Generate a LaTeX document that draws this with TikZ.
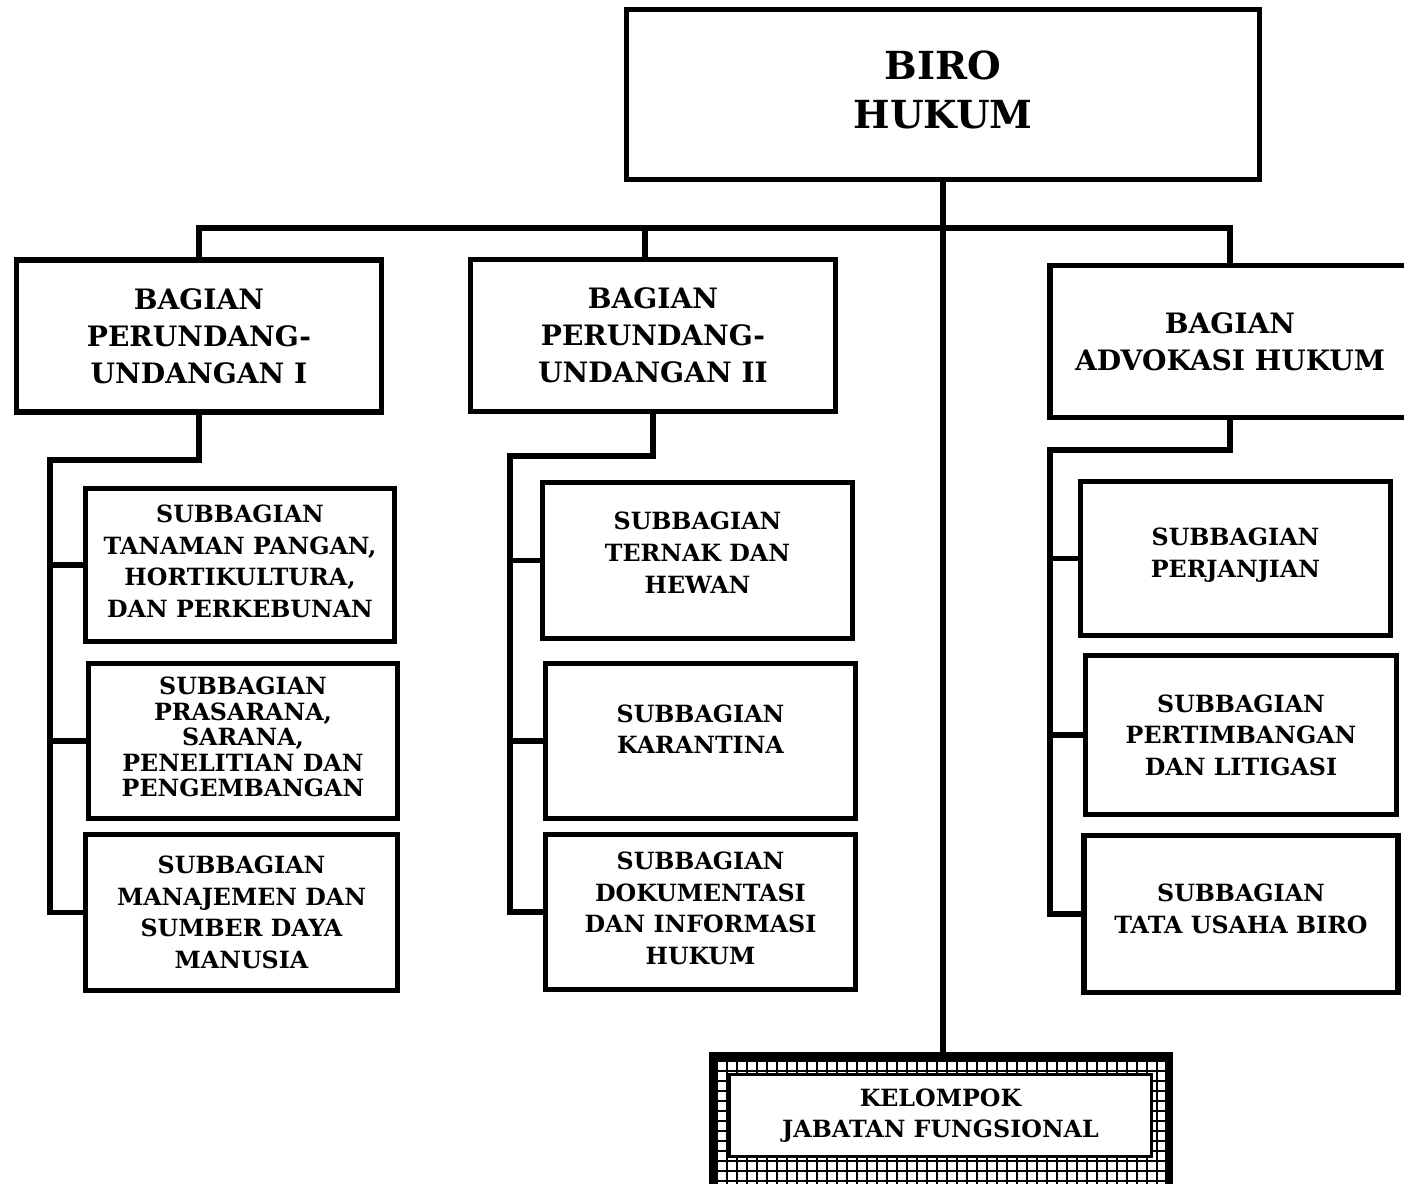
\documentclass[tikz,border=0pt]{standalone}
\usepackage{fontspec}
\setmainfont{DejaVu Serif}
\begin{document}
\begin{tikzpicture}[x=0.02cm, y=-0.02cm, line width=3pt,
    box/.style={draw, line width=3pt, align=center, inner sep=0pt},
    lift/.style={text depth=#1},
    biro box/.style={box, minimum width=12.66cm, minimum height=3.4cm, font=\fontsize{22}{28}\selectfont\bfseries},
    bagian box/.style={box, minimum width=7.3cm, minimum height=3.04cm, font=\fontsize{16}{21}\selectfont\bfseries},
    sub box/.style={box, minimum width=6.2cm, minimum height=3.1cm, font=\fontsize{13.5}{18}\selectfont\bfseries},
    kel frame/.style={draw, line width=3pt, minimum width=9.06cm, minimum height=2.64cm, inner sep=0pt},
    kel box/.style={draw, fill=white, line width=1.7pt, align=center, inner sep=0pt, minimum width=8.44cm, minimum height=1.64cm, font=\fontsize{13.5}{18}\selectfont\bfseries},
    grid line/.style={line width=1.5pt}]
  \useasboundingbox (0,0) rectangle (1404,1184);

  % top
  \node[biro box, lift=5.7pt] (biro) at (943,94.5) {BIRO\\HUKUM};

  % bagian
  \node[bagian box] (bag1) at (199,336) {BAGIAN\\PERUNDANG-\\UNDANGAN I};
  \node[bagian box] (bag2) at (653,335.5) {BAGIAN\\PERUNDANG-\\UNDANGAN II};
  \node[bagian box, minimum width=7.2cm] (bag3) at (1230,341.5) {BAGIAN\\ADVOKASI HUKUM};

  % subbagian
  \node[sub box, lift=4.5pt, minimum width=6.18cm, minimum height=3.06cm] (s11) at (240,565) {SUBBAGIAN\\TANAMAN PANGAN,\\HORTIKULTURA,\\DAN PERKEBUNAN};
  \node[sub box, lift=4.5pt, minimum width=6.18cm, font=\fontsize{13.5}{14.5}\selectfont\bfseries] (s12) at (243,741) {SUBBAGIAN\\PRASARANA,\\SARANA,\\PENELITIAN DAN\\PENGEMBANGAN};
  \node[sub box, minimum width=6.24cm, minimum height=3.12cm] (s13) at (241.5,912.5) {SUBBAGIAN\\MANAJEMEN DAN\\SUMBER DAYA\\MANUSIA};

  \node[sub box, lift=9pt, minimum height=3.12cm] (s21) at (697.5,560.5) {SUBBAGIAN\\TERNAK DAN\\HEWAN};
  \node[sub box, lift=13.5pt] (s22) at (700.5,741) {SUBBAGIAN\\KARANTINA};
  \node[sub box, lift=4.5pt] (s23) at (700.5,912) {SUBBAGIAN\\DOKUMENTASI\\DAN INFORMASI\\HUKUM};

  \node[sub box, lift=6.8pt, minimum height=3.08cm] (s31) at (1235.5,558.5) {SUBBAGIAN\\PERJANJIAN};
  \node[sub box, minimum width=6.22cm, minimum height=3.18cm] (s32) at (1241,735) {SUBBAGIAN\\PERTIMBANGAN\\DAN LITIGASI};
  \node[sub box, lift=5.7pt, minimum width=6.28cm, minimum height=3.14cm] (s33) at (1241,914) {SUBBAGIAN\\TATA USAHA BIRO};

  % kelompok jabatan fungsional
  \node[kel frame] (kelframe) at (941,1123.5) {};
  \begin{scope}
    \clip (kelframe.south west) rectangle (kelframe.north east);
    \foreach \gx in {717,727,...,1177}
      \draw[grid line] (\gx,1050) -- (\gx,1200);
    \foreach \gy in {1061,1071,...,1201}
      \draw[grid line] (700,\gy) -- (1180,\gy);
  \end{scope}
  \draw (kelframe.south west) rectangle (kelframe.north east);
  \node[kel box] (kel) at (940.5,1115.5) {KELOMPOK\\JABATAN FUNGSIONAL};

  % connectors
  \coordinate (bus) at (943,228);
  \draw (biro.south) -- (biro.south |- kelframe.north);
  \draw (bag1.north) -- (bag1.north |- bus) -- (bag3.north |- bus) -- (bag3.north);
  \draw ([xshift=-0.16cm]bag2.north |- bus) -- ([xshift=-0.16cm]bag2.north);

  \coordinate (t1) at (50,460);
  \draw (bag1.south) |- (t1) -- (t1 |- s13.west) -- (s13.west);
  \draw (t1 |- s11.west) -- (s11.west);
  \draw (t1 |- s12.west) -- (s12.west);

  \coordinate (t2) at (510,456);
  \draw (bag2.south) |- (t2) -- (t2 |- s23.west) -- (s23.west);
  \draw (t2 |- s21.west) -- (s21.west);
  \draw (t2 |- s22.west) -- (s22.west);

  \coordinate (t3) at (1050,450);
  \draw (bag3.south) |- (t3) -- (t3 |- s33.west) -- (s33.west);
  \draw (t3 |- s31.west) -- (s31.west);
  \draw (t3 |- s32.west) -- (s32.west);
\end{tikzpicture}
\end{document}
